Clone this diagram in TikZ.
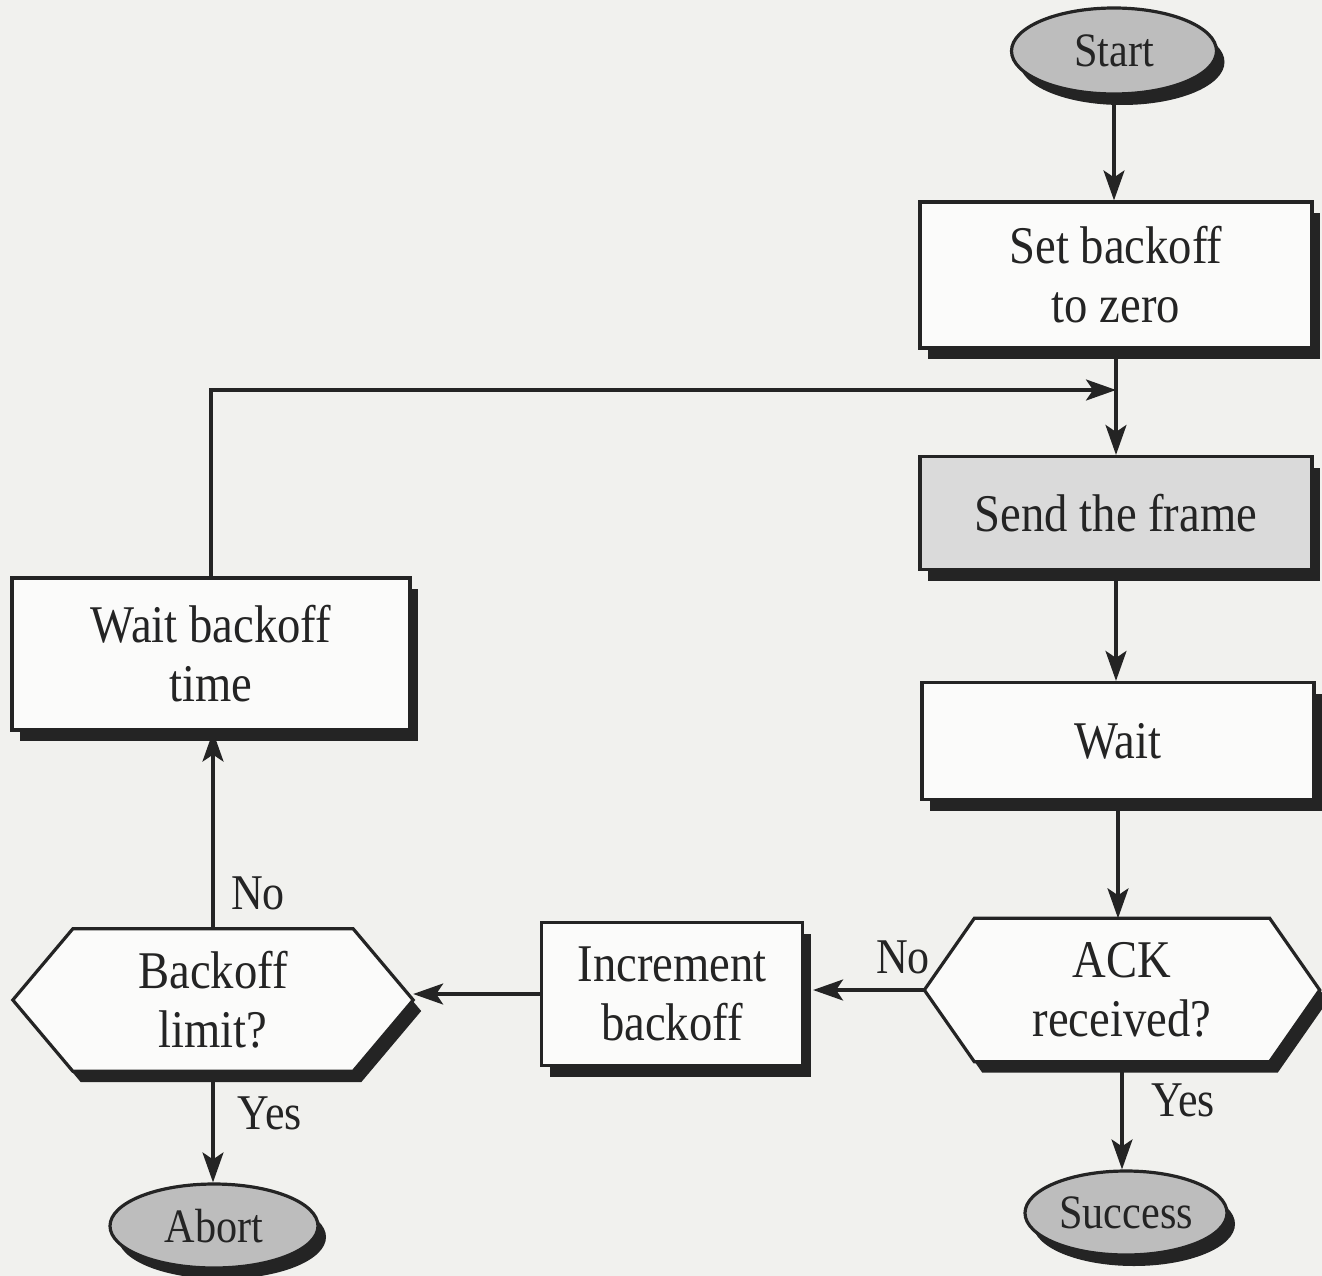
\documentclass[tikz,border=0pt]{standalone}
\usepackage{fontspec}
\setmainfont{Liberation Serif}[FakeStretch=0.88]
\usetikzlibrary{shapes.geometric,shadows,arrows.meta,calc}
\definecolor{paper}{HTML}{F1F1EE}
\definecolor{ink}{HTML}{242424}
\definecolor{boxfill}{HTML}{FBFBFA}
\definecolor{sendgray}{HTML}{DADADA}
\definecolor{termgray}{HTML}{BDBDBD}
\pgfdeclarelayer{paperlayer}
\pgfdeclarelayer{shapelayer}
\pgfsetlayers{paperlayer,shapelayer,main}
\begin{document}
\begin{tikzpicture}[x=1pt,y=-1pt,
  base/.style={draw=ink, line width=3.2pt, text=ink, align=center,
    font=\fontsize{53}{59}\selectfont},
  shade/.style={drop shadow={shadow xshift=8pt,shadow yshift=-11pt,fill=ink,opacity=1}},
  procbox/.style={base, shade, rectangle, fill=boxfill, inner sep=0pt},
  termnode/.style={base, shade, ellipse, fill=termgray, inner sep=0pt,
    font=\fontsize{48}{50}\selectfont},
  hextext/.style={rectangle, inner sep=0pt, text=ink, align=center,
    font=\fontsize{53}{59}\selectfont},
  hexline/.style={draw=ink, line width=3.2pt, fill=boxfill, line join=miter, shade},
  flow/.style={draw=ink, line width=3.2pt, -{Stealth[length=30pt,width=21pt,inset=7pt]}},
  plain/.style={draw=ink, line width=3.2pt},
  lbl/.style={text=ink, inner sep=0pt, font=\fontsize{50}{52}\selectfont}
]
\begin{pgfonlayer}{paperlayer}
  \fill[paper] (0,0) rectangle (1322,1276);
\end{pgfonlayer}
\useasboundingbox (0,0) rectangle (1322,1276);

% terminals and process steps
\node[termnode, minimum width=205pt, minimum height=86pt] (start) at (1114,51) {Start};
\node[procbox, minimum width=392pt, minimum height=146pt] (setb) at (1116,275) {Set backoff\\to zero};
\node[procbox, fill=sendgray, minimum width=392pt, minimum height=113pt] (send) at (1116,513) {Send the frame};
\node[procbox, minimum width=392pt, minimum height=117pt] (wait) at (1118,741) {Wait};
\node[procbox, minimum width=261pt, minimum height=143pt] (incr) at (672,994) {Increment\\backoff};
\node[procbox, minimum width=398pt, minimum height=152pt] (wtb) at (211,654) {Wait backoff\\time};
\node[termnode, minimum width=208pt, minimum height=84pt] (abort) at (214,1226) {Abort};
\node[termnode, minimum width=202pt, minimum height=84pt] (success) at (1126,1213) {Success};

% decisions: text block plus hexagon outline
\node[hextext, minimum width=295pt, minimum height=143pt] (ack) at (1122,990) {ACK\\received?};
\node[hextext, minimum width=280pt, minimum height=142pt] (blim) at (213,1000) {Backoff\\limit?};
\coordinate (ackW) at ($(ack.west)-(50,0)$);
\coordinate (ackE) at ($(ack.east)+(50,0)$);
\coordinate (blimW) at ($(blim.west)-(60,0)$);
\coordinate (blimE) at ($(blim.east)+(60,0)$);
\begin{pgfonlayer}{shapelayer}
  \draw[hexline] (ack.north west) -- (ack.north east) -- (ackE) -- (ack.south east)
    -- (ack.south west) -- (ackW) -- cycle;
  \draw[hexline] (blim.north west) -- (blim.north east) -- (blimE) -- (blim.south east)
    -- (blim.south west) -- (blimW) -- cycle;
\end{pgfonlayer}

% main flow
\coordinate (join) at (1116,390);
\draw[flow] (start.south) -- (start.south |- setb.north);
\draw[plain] (setb.south) -- (join);
\draw[flow] (join) -- (send.north);
\draw[flow] (send.south) -- (send.south |- wait.north);
\draw[flow] (wait.south) -- (wait.south |- ack.north);
\draw[flow] (ack.south) -- (ack.south |- success.north);
\draw[flow] (ackW) -- ($(ackW -| incr.east)+(9,0)$);
\draw[flow] (incr.west) -- (incr.west -| blimE);
\draw[flow] (blim.north) -- (blim.north |- wtb.south);
\draw[flow] (blim.south) -- (blim.south |- abort.north);
\draw[flow] (wtb.north) |- (join);

% branch labels
\node[lbl] (noack) at (903,957) {No};
\node[lbl] (nolim) at (258,893) {No};
\node[lbl] (yeslim) at (270,1113) {Yes};
\node[lbl] (yesack) at (1183,1100) {Yes};
\end{tikzpicture}
\end{document}
